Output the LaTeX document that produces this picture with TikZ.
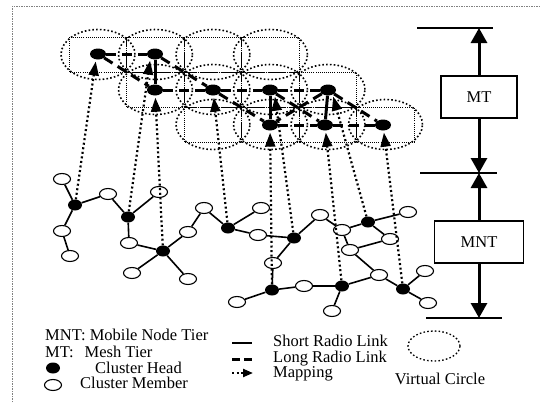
\documentclass[tikz,border=0pt]{standalone}
\usepackage{fontspec}
\setmainfont{Liberation Serif}
\usepackage{tikz}
\tikzset{>=latex}
\usetikzlibrary{shapes.geometric, arrows.meta}
\tikzset{
    head/.style={ellipse, fill=black, inner sep=0pt, minimum width=14pt, minimum height=11pt},
    meshhead/.style={head, minimum width=16pt},
    member/.style={ellipse, draw, fill=white, line width=1.1pt, inner sep=0pt, minimum width=17pt, minimum height=11pt},
    shortlink/.style={line width=1.6pt},
    meshshort/.style={line width=3pt},
    longlink/.style={line width=3pt, dash pattern=on 10pt off 6pt},
    mapping/.style={line width=2.2pt, dash pattern=on 2pt off 2.6pt, shorten >=2pt, -{Triangle[length=14pt, width=10pt]}},
    vcircle/.style={line width=1.6pt, dash pattern=on 1.6pt off 2.2pt},
    vsquare/.style={line width=0.7pt, dash pattern=on 0.7pt off 1.4pt},
    tierbox/.style={draw, line width=1.2pt, minimum height=42pt, inner sep=0pt},
    dimline/.style={line width=3pt, -{Triangle[length=15pt, width=16pt]}},
    legend/.style={anchor=base west, inner sep=0pt}
}
\newcommand{\vcgrid}[2]{% row, column of a virtual circle
    \pgfmathsetmacro{\cx}{98+57.5*(#1+#2)}
    \pgfmathsetmacro{\cy}{54.5+35*#1}
    \draw[vcircle](\cx, \cy) ellipse [x radius=37pt, y radius=25pt];
    \draw[vsquare](\cx-28.75, \cy-17.5) rectangle (\cx+28.75, \cy+17.5);
}

\begin{document}
\begin{tikzpicture}[x=1pt, y=-1pt, font=\fontsize{16.5pt}{19pt}\selectfont]
    \useasboundingbox (0, 0) rectangle (541, 402);
    \draw[gray, line width=1pt, dash pattern=on 1.5pt off 1pt](12, 402)--(12, 6)--(541, 6);

    % virtual circles of the mesh tier
    \foreach \r in {0, 1, 2}{
        \foreach \c in {0, ..., 3}{\vcgrid\r\c}
    }

    % mesh tier
    \node[meshhead] (m1) at (98, 54) {};
    \node[meshhead] (m2) at (155, 54) {};
    \node[meshhead] (m3) at (155, 90) {};
    \node[meshhead] (m4) at (213, 90) {};
    \node[meshhead] (m5) at (270, 90) {};
    \node[meshhead] (m6) at (328, 90) {};
    \node[meshhead] (m7) at (270, 125) {};
    \node[meshhead] (m8) at (325, 125) {};
    \node[meshhead] (m9) at (383, 125) {};
    \draw[longlink](m1)--(m2);
    \draw[longlink](m1)--(m3);
    \draw[longlink](m2)--(m4);
    \draw[longlink](m3)--(m4);
    \draw[longlink](m4)--(m5);
    \draw[longlink](m5)--(m6);
    \draw[longlink](m4)--(m7);
    \draw[longlink](m5)--(m8);
    \draw[longlink](m6)--(m7);
    \draw[longlink](m6)--(m9);
    \draw[longlink](m7)--(m8);
    \draw[longlink](m8)--(m9);
    \draw[meshshort](m2)--(m3);
    \draw[meshshort](m5)--(m7);
    \draw[meshshort](m6)--(m8);

    % mobile node tier
    \node[head] (c1) at (75, 205) {};
    \node[head] (c2) at (128, 217) {};
    \node[head] (c3) at (163, 251) {};
    \node[head] (c4) at (228, 228) {};
    \node[head] (c5) at (294, 238) {};
    \node[head] (c6) at (272, 290) {};
    \node[head] (c7) at (368, 222) {};
    \node[head] (c8) at (342, 286) {};
    \node[head] (c9) at (403, 289) {};
    \node[member] (a1) at (62, 179) {};
    \node[member] (a2) at (108, 194) {};
    \node[member] (a3) at (62, 231) {};
    \node[member] (a4) at (70, 256) {};
    \node[member] (a5) at (159, 192) {};
    \node[member] (a6) at (129, 243) {};
    \node[member] (a7) at (132, 273) {};
    \node[member] (a8) at (188, 279) {};
    \node[member] (a9) at (188, 232) {};
    \node[member] (a10) at (204, 208) {};
    \node[member] (a11) at (261, 208) {};
    \node[member] (a12) at (258, 235) {};
    \node[member] (a13) at (273, 263) {};
    \node[member] (a14) at (237, 302) {};
    \node[member] (a15) at (320, 215) {};
    \node[member] (a16) at (342, 230) {};
    \node[member] (a17) at (408, 212) {};
    \node[member] (a18) at (390, 239) {};
    \node[member] (a19) at (350, 250) {};
    \node[member] (a20) at (379, 275) {};
    \node[member] (a21) at (425, 271) {};
    \node[member] (a22) at (428, 303) {};
    \node[member] (a23) at (332, 311) {};
    \node[member] (a24) at (304, 286) {};
    \foreach \u/\v in {c1/a1, c1/a2, c1/a3, a3/a4, c2/a2, c2/a5, c2/a6, c3/a6, c3/a7, c3/a8, c3/a9,
        a9/a10, a10/c4, c4/a11, c4/a12, a12/c5, c5/a15, c5/a13, a13/c6, c6/a14, c6/a24, a24/c8,
        c8/a23, c8/a20, a20/c9, c9/a21, c9/a22, a20/a19, a19/a16, a16/a15, a16/c7, c7/a17, c7/a18, a18/a19}
        \draw[shortlink](\u)--(\v);

    % mapping between the tiers
    \draw[mapping](c1)--(m1.250);
    \draw[mapping](c2)--(m2.225);
    \draw[mapping](c3)--(m3);
    \draw[mapping](c4)--(m4);
    \draw[mapping](c5)--(m5.315);
    \draw[mapping](c6)--(m7);
    \draw[mapping](c7)--(m6.315);
    \draw[mapping](c8)--(m8);
    \draw[mapping](c9)--(m9);

    % tiers
    \node[tierbox, minimum width=76pt] (mt) at (479, 97) {MT};
    \node[tierbox, minimum width=89pt] (mnt) at (479, 242) {MNT};
    \coordinate (top) at (479, 28);
    \coordinate (mid) at (479, 173);
    \coordinate (bot) at (479, 318);
    \draw[line width=2pt](417, 28)--(493, 28);
    \draw[line width=2pt](420, 173)--(497, 173);
    \draw[line width=2pt](426, 318)--(502, 318);
    \draw[dimline](mt)--(top);
    \draw[dimline](mt)--(mid);
    \draw[dimline](mnt)--(mid);
    \draw[dimline](mnt)--(bot);

    % legend
    \node[legend] (tmnt) at (45, 340) {MNT: Mobile Node Tier};
    \node[legend] (tmt) at (45, 357) {MT:\hspace{11pt}Mesh Tier};
    \node[head] (lhead) at (53, 368) {};
    \node[legend] (thead) at (95, 373) {Cluster Head};
    \node[member] (lmember) at (53, 385) {};
    \node[legend] (tmember) at (80, 388) {Cluster Member};
    \coordinate (s1) at (232, 343);
    \coordinate (s2) at (252, 343);
    \coordinate (l1) at (232, 359);
    \coordinate (l2) at (252, 359);
    \coordinate (p1) at (232, 373);
    \coordinate (p2) at (253, 373);
    \draw[line width=2pt](s1)--(s2);
    \draw[longlink, dash pattern=on 8pt off 4pt](l1)--(l2);
    \draw[mapping, shorten >=0pt, -{Triangle[length=10pt, width=8pt]}](p1)--(p2);
    \node[legend] (tshort) at (273, 346) {Short Radio Link};
    \node[legend] (tlong) at (273, 362) {Long Radio Link};
    \node[legend] (tmap) at (273, 377) {Mapping};
    \draw[vcircle, line width=1.3pt](434, 346) ellipse [x radius=26pt, y radius=15pt];
    \node[anchor=base, inner sep=0pt] (tvc) at (440, 384) {Virtual Circle};
\end{tikzpicture}
\end{document}
